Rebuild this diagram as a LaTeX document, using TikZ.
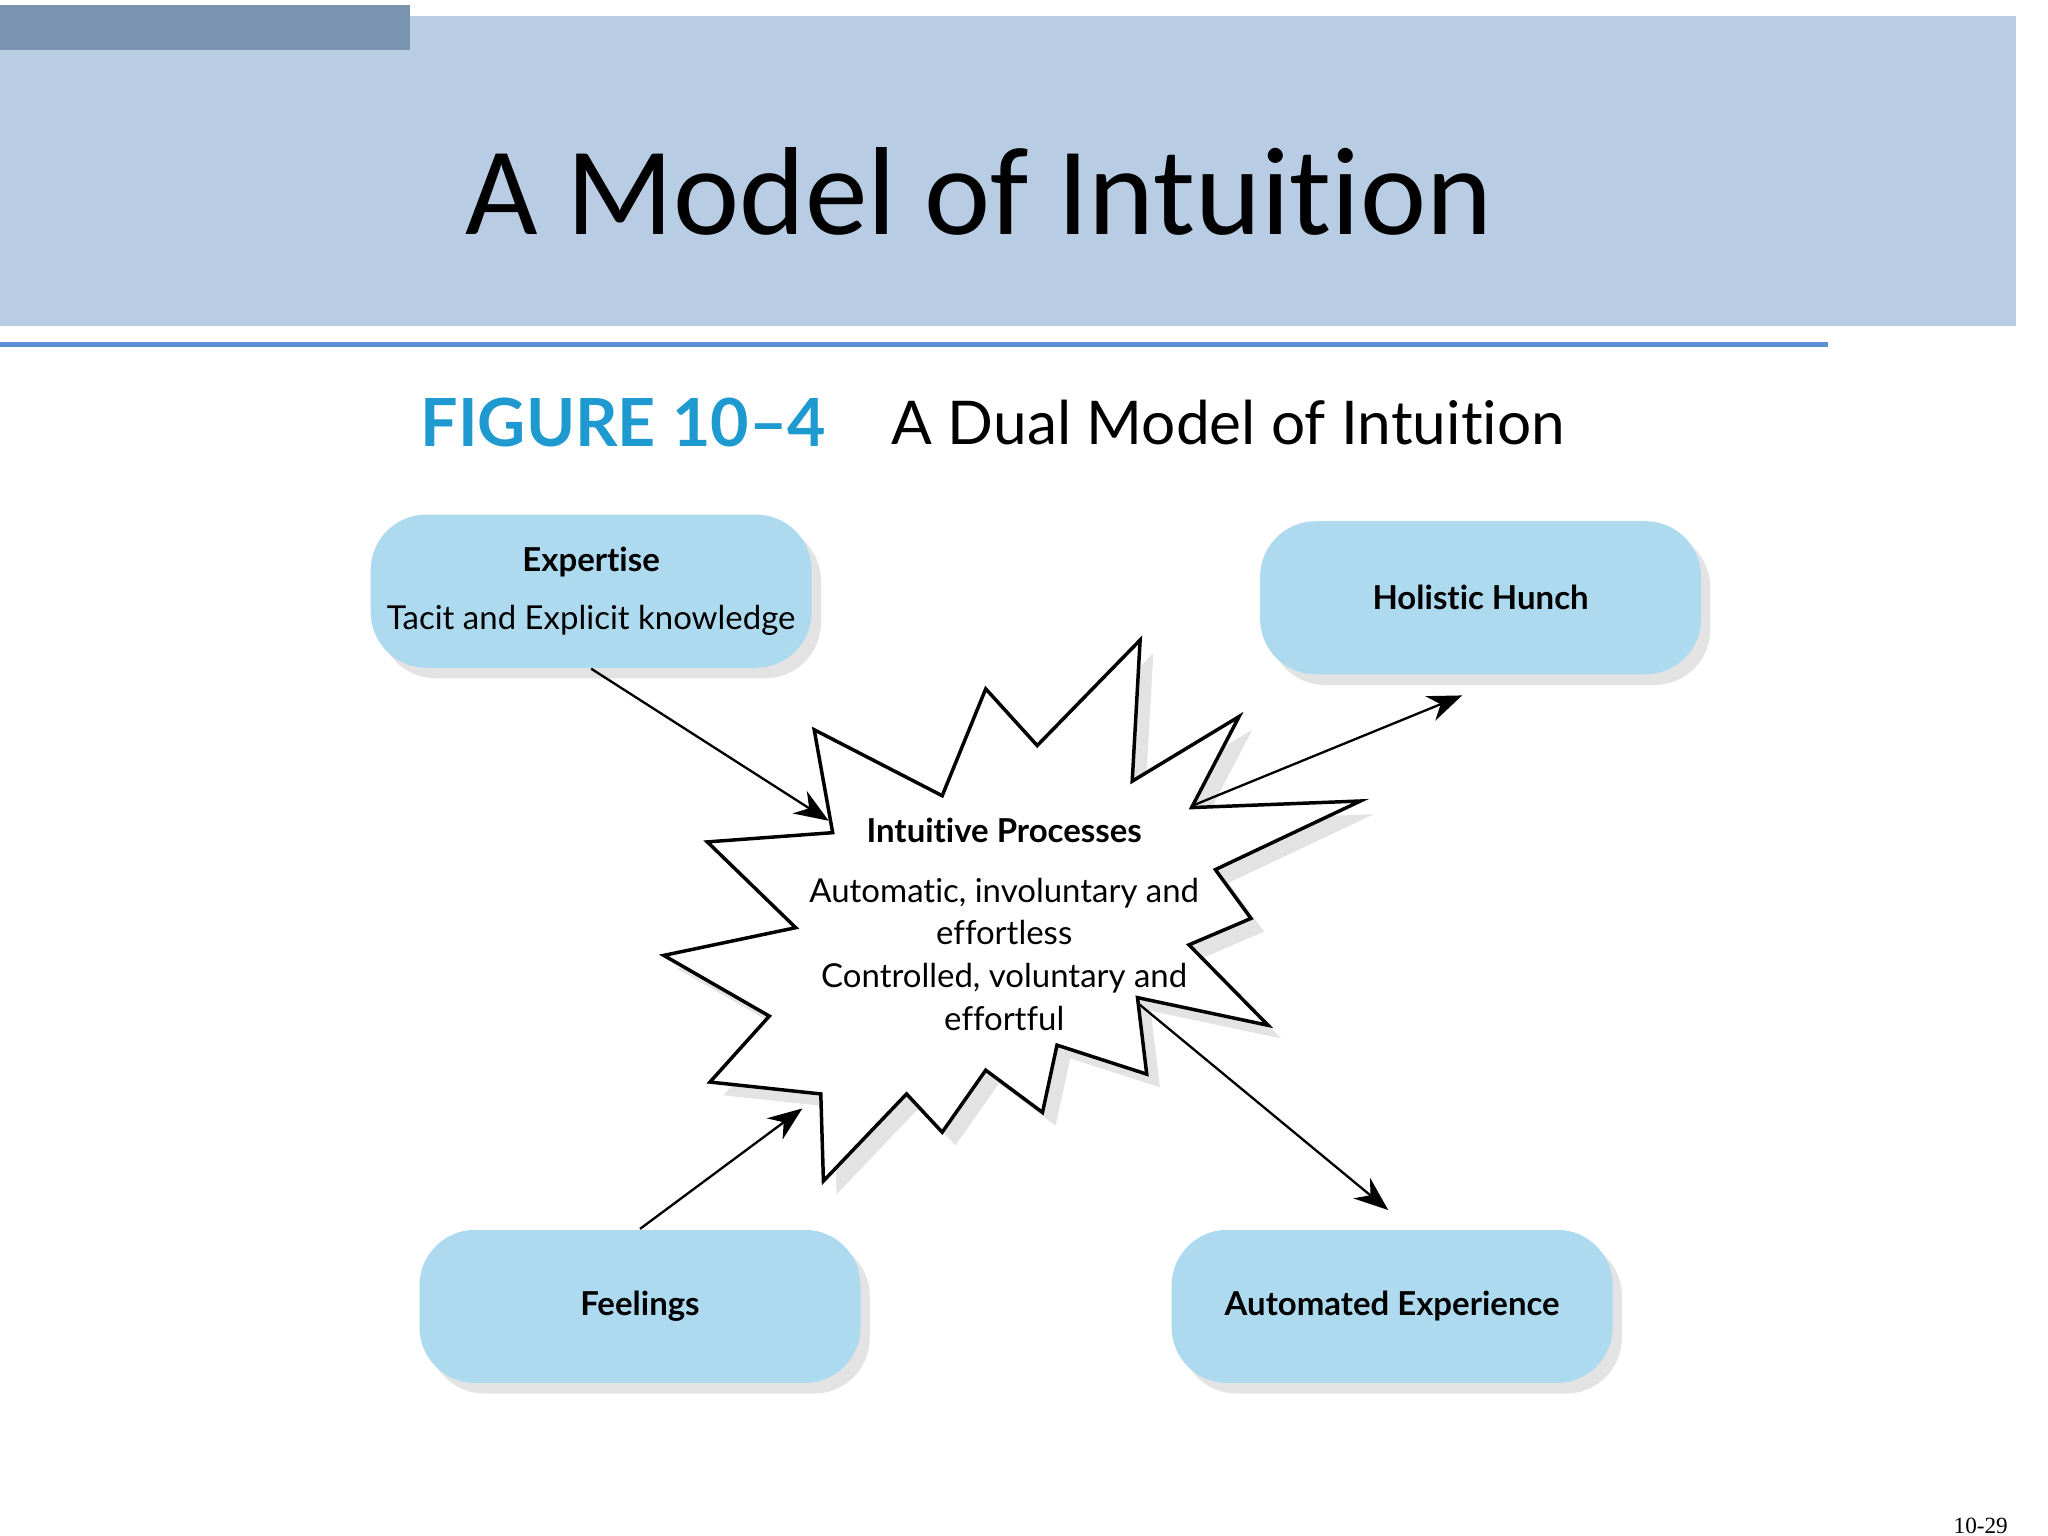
\documentclass[tikz,border=0pt]{standalone}
\usepackage{fontspec}
\setmainfont{Carlito}[RawFeature={-liga}]
\newfontfamily\gill{Lato}[RawFeature={-liga}]
\usetikzlibrary{shadows,arrows.meta}
\definecolor{band}{HTML}{B8CCE4}
\definecolor{darkbar}{HTML}{7A93AE}
\definecolor{rule}{HTML}{5B8FD6}
\definecolor{figblue}{HTML}{1E9AD0}
\definecolor{boxfill}{HTML}{AEDAEF}
\tikzset{
  bx/.style={draw=none,fill=boxfill,rounded corners=12pt,minimum width=3.34cm,minimum height=1.16cm,align=center,
    font=\gill\fontsize{7.1pt}{12.5pt}\selectfont,drop shadow={shadow xshift=0.7mm,shadow yshift=-0.8mm,opacity=0.22,fill=gray}},
  arr/.style={-{Stealth[length=2.6mm,width=2mm]},line width=0.5pt}
}
\begin{document}
\begin{tikzpicture}[x=0.01cm,y=-0.01cm]
\useasboundingbox (0,0) rectangle (1552,1164);
\fill[white] (0,0) rectangle (1552,1164);
\fill[band] (0,12) rectangle (1528,247);
\fill[darkbar] (0,4) rectangle (311,38);
\node[font=\fontsize{27pt}{32pt}\selectfont] (title) at (742,145) {A Model of Intuition};
\draw[rule,line width=1.1pt] (0,261) -- (1385,261);
\node[font=\gill\bfseries\fontsize{14.3pt}{18pt}\selectfont,text=figblue,anchor=west,inner sep=0pt] (fig) at (318,320) {FIGURE 10–4};
\node[font=\gill\fontsize{13pt}{18pt}\selectfont,anchor=west,inner sep=0pt] (figt) at (675,320) {A Dual Model of Intuition};
% star
\draw[line width=0.75pt,fill=white,drop shadow={shadow xshift=1mm,shadow yshift=-1mm,opacity=0.22,fill=gray}]
 (617,553)--(714,603)--(747,522)--(786,565)--(864,485)--(858,592)--(939,543)--(903,612)--(1031,607)--(921,659)--(948,696)--(901,716)--(961,777)--(862,756)--(869,814)--(801,792)--(790,843)--(747,811)--(714,858)--(687,829)--(624,895)--(622,829)--(538,820)--(583,770)--(503,724)--(603,703)--(536,638)--(631,631)--cycle;
\node[font=\gill\bfseries\fontsize{7.1pt}{9pt}\selectfont] (ip) at (761,629) {Intuitive Processes};
\node[font=\gill\fontsize{7.1pt}{9.2pt}\selectfont,align=center] (ipt) at (761,723) {Automatic, involuntary and\\effortless\\Controlled, voluntary and\\effortful};
% boxes
\node[bx] (exp) at (448,448) {\textbf{Expertise}\\Tacit and Explicit knowledge};
\node[bx] (hol) at (1122,453) {\textbf{Holistic Hunch}};
\node[bx] (fee) at (485,990) {\textbf{Feelings}};
\node[bx] (aut) at (1055,990) {\textbf{Automated Experience}};
% arrows
\coordinate (e1) at (628,622);
\coordinate (h0) at (905,610);
\coordinate (h1) at (1108,527);
\coordinate (f1) at (608,840);
\coordinate (a0) at (862,760);
\coordinate (a1) at (1052,917);
\draw[arr] (exp.south) -- (e1);
\draw[arr] (h0) -- (h1);
\draw[arr] (fee.north) -- (f1);
\draw[arr] (a0) -- (a1);
\node[font=\fontspec{Liberation Serif}\fontsize{5pt}{6pt}\selectfont] (pg) at (1501,1156) {10-29};
\end{tikzpicture}
\end{document}
